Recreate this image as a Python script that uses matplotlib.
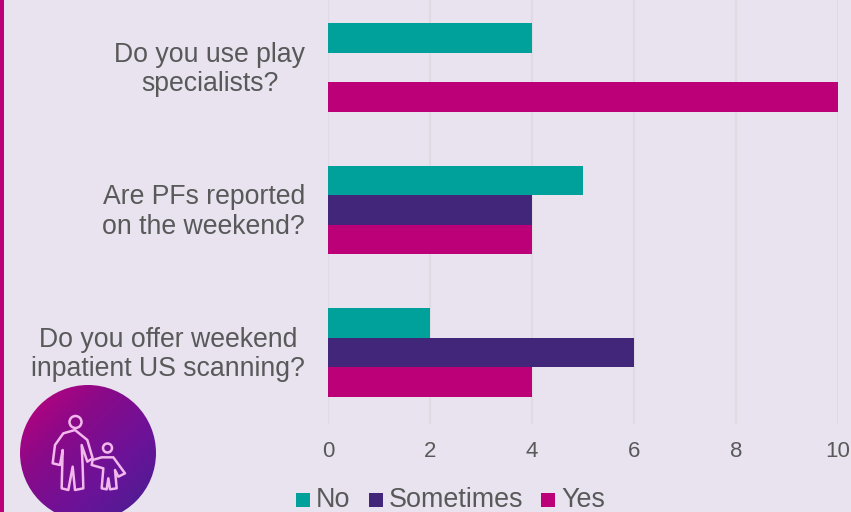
import numpy as np
import matplotlib
matplotlib.use("Agg")
import matplotlib.pyplot as plt
from matplotlib.patches import Circle, Patch, Polygon, Rectangle
from matplotlib.colors import LinearSegmentedColormap
from matplotlib.transforms import ScaledTranslation

questions = ["Do you use play\nspecialists?",
             "Are PFs reported\non the weekend?",
             "Do you offer weekend\ninpatient US scanning?"]
no_counts = [4, 5, 2]
sometimes_counts = [0, 4, 6]
yes_counts = [10, 4, 4]
x_ticks = [0, 2, 4, 6, 8, 10]

BG = "#E8E3EF"
TEAL = "#00A19A"
PURPLE = "#42267A"
MAGENTA = "#BB0078"
TEXT = "#595959"
GRID = "#DEDCE2"

W, H = 851, 512
plt.rcParams["font.family"] = ["Liberation Sans", "DejaVu Sans"]
fig = plt.figure(figsize=(W / 100, H / 100), dpi=100, facecolor=BG)

# Bar panel: zero sits at 328 px, ten at 838 px, groups are 142.5 px apart
ax = fig.add_axes([328 / W, 1 - 424 / H, 510 / W, 424 / H], facecolor="none")
pos = np.arange(len(questions))
bar_h = 0.207
ax.barh(pos - bar_h, no_counts, bar_h, color=TEAL, zorder=3, label="No")
ax.barh(pos, sometimes_counts, bar_h, color=PURPLE, zorder=3, label="Sometimes")
ax.barh(pos + bar_h, yes_counts, bar_h, color=MAGENTA, zorder=3, label="Yes")

ax.set_xlim(0, 10)
ax.set_ylim(2.5018, -0.4737)
ax.set_xticks(x_ticks)
ax.set_yticks(pos)
ax.set_yticklabels(questions, fontsize=19.2, color=TEXT, ha="right", multialignment="center",
                   linespacing=1.16)
ax.tick_params(axis="y", length=0, pad=16.5)
ax.tick_params(axis="x", length=0, pad=12.5, labelsize=16, labelcolor=TEXT)
# Lift the question labels slightly above their group centres
lift = ScaledTranslation(0, 2.5 / 100, fig.dpi_scale_trans)
for lab in ax.get_yticklabels():
    lab.set_transform(lab.get_transform() + lift)
ax.grid(axis="x", color=GRID, linewidth=1.5, zorder=0)
ax.set_axisbelow(True)
for s in ax.spines.values():
    s.set_visible(False)

# Overlay in pixel coordinates for the side stripe, legend and badge
ov = fig.add_axes([0, 0, 1, 1], facecolor="none")
ov.set_xlim(0, W)
ov.set_ylim(H, 0)
ov.axis("off")
ov.add_patch(Rectangle((0, 0), 4, H, color=MAGENTA, lw=0))

legend_handles = [Patch(color=TEAL, label="No"),
                  Patch(color=PURPLE, label="Sometimes"),
                  Patch(color=MAGENTA, label="Yes")]
legend_x = [296, 369, 541]
for handle, lx in zip(legend_handles, legend_x):
    ov.add_patch(Rectangle((lx, 493), 14, 14, color=handle.get_facecolor(), lw=0))
    ov.text(lx + 20, 507, handle.get_label(), fontsize=19.4, color=TEXT, va="baseline", ha="left")

# Round badge with a diagonal gradient
cx, cy, r = 88, 453, 68
cmap = LinearSegmentedColormap.from_list("badge", ["#C4007C", "#8A0A88", "#6A1399", "#43208F"])
gx, gy = np.meshgrid(np.linspace(0, 1, 120), np.linspace(0, 1, 120))
img = ov.imshow((gx + gy) / 2, cmap=cmap, extent=(cx - r, cx + r, cy + r, cy - r),
                zorder=4, aspect="auto")
clip = Circle((cx, cy), r, transform=ov.transData)
img.set_clip_path(clip)
ov.set_xlim(0, W)
ov.set_ylim(H, 0)

LINE = "#F2B8EC"
adult = [(225, 180), (262, 210), (278, 265), (262, 275), (245, 225), (248, 290), (250, 355),
         (225, 360), (218, 290), (205, 360), (185, 355), (188, 240), (180, 285), (158, 280),
         (165, 225), (190, 190)]
child = [(305, 262), (340, 262), (375, 310), (355, 320), (345, 300), (350, 355), (330, 358),
         (325, 325), (320, 358), (305, 355), (310, 295), (275, 285), (278, 270)]
for shape in (adult, child):
    pts = [(px / 3, 370 + py / 3) for px, py in shape]
    ov.add_patch(Polygon(pts, closed=True, fill=False, edgecolor=LINE, lw=1.8, zorder=5, joinstyle="round"))
ov.add_patch(Circle((75.5, 422), 6, fill=False, edgecolor=LINE, lw=1.8, zorder=5))
ov.add_patch(Circle((107.5, 448), 4.5, fill=False, edgecolor=LINE, lw=1.8, zorder=5))

fig.savefig("out.png", dpi=100, facecolor=BG)
